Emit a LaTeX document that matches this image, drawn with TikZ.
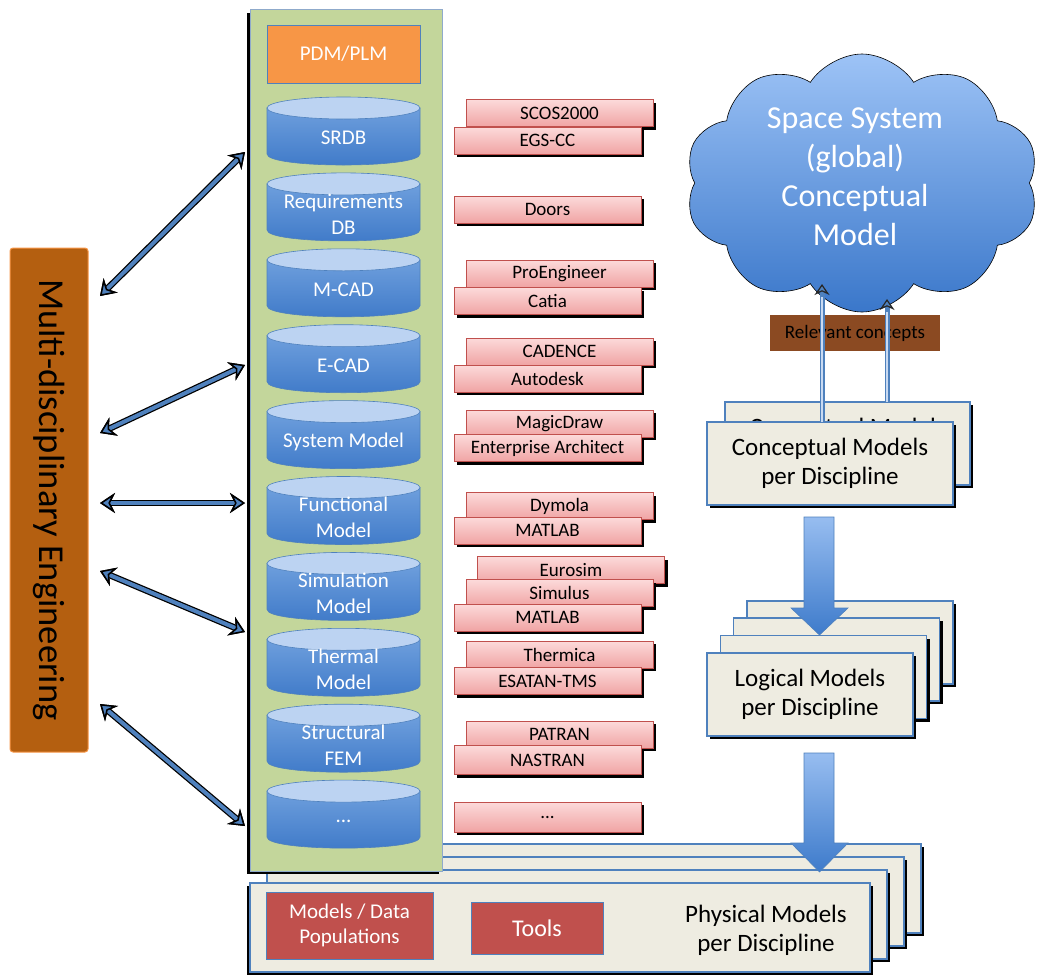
\documentclass[tikz,border=0pt]{standalone}
\usepackage{fontspec}
\setmainfont{Carlito}
\usetikzlibrary{shapes.symbols,shadows,arrows.meta,calc}
\definecolor{bordblue}{HTML}{4F81BD}
\definecolor{panelgreen}{HTML}{C3D69B}
\definecolor{panelline}{HTML}{8FAACB}
\definecolor{pdmorange}{HTML}{F79646}
\definecolor{cyltop}{HTML}{BCD3F2}
\definecolor{cylupper}{HTML}{6E9FDD}
\definecolor{cyllower}{HTML}{3E79C8}
\definecolor{toolpinkA}{HTML}{FCDADA}
\definecolor{toolpinkB}{HTML}{F0A4A4}
\definecolor{toolred}{HTML}{C0504D}
\definecolor{paper}{HTML}{EEECE1}
\definecolor{barbrown}{HTML}{B45F10}
\definecolor{relbrown}{HTML}{8B4A22}
\definecolor{cloudtop}{HTML}{9DC3F6}
\definecolor{cloudbot}{HTML}{3A77CA}
\definecolor{arrowtop}{HTML}{97BDF0}
\definecolor{arrowbot}{HTML}{3E7BCB}
\definecolor{thinblue}{HTML}{C9DAF2}
\tikzset{
  blackshadow/.style={drop shadow={shadow xshift=3pt, shadow yshift=-3pt, fill=black, opacity=1}},
  toolbox/.style={draw=toolred, line width=0.8pt, top color=toolpinkA, bottom color=toolpinkB,
    minimum width=187pt, minimum height=27pt, inner sep=0pt, font=\fontsize{19}{21}\selectfont, blackshadow},
  stackbox/.style={draw=bordblue, line width=1.2pt, fill=paper, blackshadow, inner sep=0pt,
    align=center, font=\fontsize{25}{29}\selectfont},
  cyltext/.style={text=white, align=center, font=\fontsize{21}{26}\selectfont, inner sep=0pt},
  cylbody/.style={top color=cylupper, bottom color=cyllower, draw=bordblue, line width=0.6pt},
  cylcap/.style={fill=cyltop, draw=bordblue, line width=0.6pt},
  bigarrow/.style={top color=arrowtop, bottom color=arrowbot, draw=bordblue, line width=0.6pt},
  tipA/.tip={Stealth[length=15pt,width=20pt,inset=5pt,line width=1.5pt,color=black,fill=bordblue]},
  tipB/.tip={Stealth[length=11pt,width=15pt,inset=3.5pt,line width=1.2pt,color=black!85,fill=bordblue]},
  dblarrow/.style={bordblue, line width=4pt, tipA-tipA,
    preaction={draw=black, line width=6.5pt}},
  uparrow/.style={bordblue, line width=5pt, -tipB},
  redbox/.style={fill=toolred, draw=bordblue, line width=1pt, text=white, align=center, inner sep=0pt}
}
\newcommand{\dbcyl}[3]{%
  \pgfmathsetmacro\cylTop{#2+11}%
  \pgfmathsetmacro\cylBot{#2+57}%
  \pgfmathsetmacro\cylCtl{#2+57+14.67}%
  \pgfmathsetmacro\cylTxt{#2+41}%
  \path[cylbody] (267,\cylTop) -- (267,\cylBot) .. controls (267,\cylCtl) and (420,\cylCtl) .. (420,\cylBot) -- (420,\cylTop) -- cycle;
  \draw[cylcap] (343.5,\cylTop) ellipse [x radius=76.5pt, y radius=11pt];
  \node[cyltext] (#1) at (343.5,\cylTxt) {#3};
}
\begin{document}
\begin{tikzpicture}[x=1pt,y=-1pt]
\useasboundingbox (0,0) rectangle (1040,974);
\fill[white] (0,0) rectangle (1040,974);

% cloud
\node[cloud, cloud puffs=10, cloud puff arc=115, aspect=1.4, minimum width=354pt, minimum height=258pt,
  draw=black, line width=0.6pt, top color=cloudtop, bottom color=cloudbot] (cloud) at (862,183) {};
\node[text=white, align=center, font=\fontsize{32}{39}\selectfont] (cloudtext) at (855,177) {Space System\\(global)\\Conceptual\\Model};

% relevant concepts
\node[fill=relbrown, minimum width=170pt, minimum height=36pt, inner sep=0pt, font=\fontsize{19}{21}\selectfont] (rel) at (855,333) {Relevant concepts};

% conceptual models stack
\node[stackbox, minimum width=245pt, minimum height=83pt] (concB) at (847.5,443.5) {Conceptual Models\\per Discipline};
\node[stackbox, minimum width=246pt, minimum height=83pt] (conc) at (830,463.5) {Conceptual Models\\per Discipline};

% up arrows
\coordinate (uA0) at (822,422);
\coordinate (uA1) at (822,284);
\coordinate (uB0) at (887,402);
\coordinate (uB1) at (887,299);
\draw[uparrow] (uA0) -- (uA1);
\draw[thinblue, line width=1.5pt] (uA0) -- ($(uA1)+(0,13)$);
\draw[uparrow] (uB0) -- (uB1);
\draw[thinblue, line width=1.5pt] (uB0) -- ($(uB1)+(0,13)$);

% logical models stack
\node[stackbox, minimum width=206pt, minimum height=83pt] (log4) at (850,642.5) {};
\node[stackbox, minimum width=206pt, minimum height=83pt] (log3) at (836.5,659.5) {};
\node[stackbox, minimum width=206pt, minimum height=83pt] (log2) at (823.5,677) {};
\node[stackbox, minimum width=206pt, minimum height=83pt] (log) at (810,694.5) {Logical Models\\per Discipline};

% arrow conceptual -> logical
\path[bigarrow] (804,517) -- (834,517) -- (834,608) -- (848,608) -- (819.5,635) -- (791,608) -- (804,608) -- cycle;

% physical stack (back)
\node[stackbox, minimum width=620pt, minimum height=89pt] (phys4) at (611,888.5) {};
\node[stackbox, minimum width=620pt, minimum height=89pt] (phys3) at (594,901.5) {};
\node[stackbox, minimum width=620pt, minimum height=89pt] (phys2) at (577,914.5) {};

% green panel
\node[fill=panelgreen, draw=panelline, line width=1pt, minimum width=192pt, minimum height=861pt, inner sep=0pt,
  drop shadow={shadow xshift=-3pt, shadow yshift=-3pt, fill=black, opacity=1}] (panel) at (346,440.5) {};

% physical front
\node[stackbox, minimum width=620pt, minimum height=89pt,
  drop shadow={shadow xshift=-3pt, shadow yshift=-3pt, fill=black, opacity=1}] (phys) at (560,927.5) {};
\node[align=center, font=\fontsize{25}{29}\selectfont, inner sep=0pt] (phystext) at (766,930) {Physical Models\\per Discipline};
\node[redbox, minimum width=167pt, minimum height=67pt, font=\fontsize{21}{25}\selectfont] (popul) at (349.5,925.5) {Models / Data\\Populations};
\node[redbox, minimum width=132pt, minimum height=52pt, font=\fontsize{24}{26}\selectfont] (tools) at (537,928) {Tools};

% arrow logical -> physical
\path[bigarrow] (804,753) -- (834,753) -- (834,843) -- (848,843) -- (819.5,872) -- (791,843) -- (804,843) -- cycle;

% PDM/PLM
\node[fill=pdmorange, draw=bordblue, line width=0.8pt, minimum width=153pt, minimum height=58pt, inner sep=0pt,
  text=white, font=\fontsize{21}{24}\selectfont] (pdm) at (343.5,54) {PDM/PLM};

% cylinders
\dbcyl{srdb}{97}{SRDB}
\dbcyl{reqdb}{172.9}{Requirements\\DB}
\dbcyl{mcad}{248.8}{M-CAD}
\dbcyl{ecad}{324.7}{E-CAD}
\dbcyl{sysm}{400.6}{System Model}
\dbcyl{funm}{476.5}{Functional\\Model}
\dbcyl{simm}{552.4}{Simulation\\Model}
\dbcyl{therm}{628.3}{Thermal\\Model}
\dbcyl{sfem}{704.2}{Structural\\FEM}
\dbcyl{dots}{780.1}{...}

% tools
\node[toolbox] (t1b) at (559.5,113) {SCOS2000};
\node[toolbox] (t1a) at (547.5,140.5) {EGS-CC};
\node[toolbox] (t2a) at (547.5,209.5) {Doors};
\node[toolbox] (t3b) at (559.5,273.5) {ProEngineer};
\node[toolbox] (t3a) at (547.5,301) {Catia};
\node[toolbox] (t4b) at (559.5,351.5) {CADENCE};
\node[toolbox] (t4a) at (547.5,378.5) {Autodesk};
\node[toolbox] (t5b) at (559.5,423.5) {MagicDraw};
\node[toolbox] (t5a) at (547.5,448) {Enterprise Architect};
\node[toolbox] (t6b) at (559.5,506) {Dymola};
\node[toolbox] (t6a) at (547.5,530.5) {MATLAB};
\node[toolbox] (t7c) at (571,570) {Eurosim};
\node[toolbox] (t7b) at (559.5,593) {Simulus};
\node[toolbox] (t7a) at (547.5,617.5) {MATLAB};
\node[toolbox] (t8b) at (559.5,654.5) {Thermica};
\node[toolbox] (t8a) at (547.5,681) {ESATAN-TMS};
\node[toolbox] (t9b) at (559.5,734.5) {PATRAN};
\node[toolbox, minimum height=29pt] (t9a) at (547.5,760) {NASTRAN};
\node[toolbox, minimum height=30pt] (t10a) at (547.5,817) {...};

% left bar
\node[fill=barbrown, draw=pdmorange, line width=1pt, rounded corners=3pt, minimum width=78pt, minimum height=504pt, inner sep=0pt] (bar) at (49,500) {};
\node[rotate=-90, font=\fontsize{36.5}{38}\selectfont, inner sep=0pt] (bartext) at (bar.center) {Multi-disciplinary Engineering};

% double arrows
\coordinate (bl1) at (100,296);
\coordinate (pr1) at (245,152);
\coordinate (bl2) at (100,433);
\coordinate (pr2) at (245,365);
\coordinate (bl3) at (100,503);
\coordinate (pr3) at (245,503);
\coordinate (bl4) at (100,571);
\coordinate (pr4) at (245,632);
\coordinate (bl5) at (100,704);
\coordinate (pr5) at (245,826);
\draw[dblarrow] (bl1) -- (pr1);
\draw[dblarrow] (bl2) -- (pr2);
\draw[dblarrow] (bl3) -- (pr3);
\draw[dblarrow] (bl4) -- (pr4);
\draw[dblarrow] (bl5) -- (pr5);
\end{tikzpicture}
\end{document}
